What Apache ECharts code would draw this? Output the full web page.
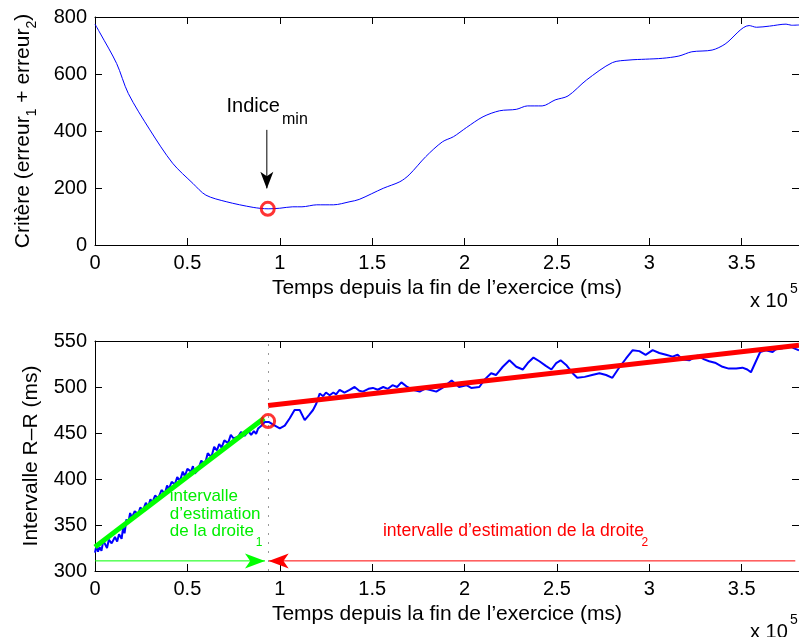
<!DOCTYPE html>
<html><head><meta charset="utf-8">
<script src="https://cdn.jsdelivr.net/npm/echarts@6/dist/echarts.min.js"></script>
<style>html,body{margin:0;padding:0;background:#fff}#c{width:799px;height:637px}</style>
</head><body><div id="c"></div>
<script>
const FONT = "'Liberation Sans', Arial, Helvetica, sans-serif";

// ---- top plot : criterion ----
const critX = [0, 0.027, 0.117, 0.18, 0.297, 0.42, 0.53, 0.60, 0.71, 0.856, 0.937, 1.0, 1.07, 1.12, 1.2, 1.29, 1.38, 1.43, 1.56, 1.65, 1.70, 1.79, 1.88, 1.94, 2.01, 2.10, 2.19, 2.28, 2.34, 2.42, 2.49, 2.56, 2.66, 2.80, 2.89, 2.98, 3.07, 3.16, 3.23, 3.34, 3.41, 3.54, 3.58, 3.65, 3.74, 3.77, 3.81];
const critY = [775, 744, 637, 532, 404, 287, 216, 175, 152, 132, 127, 129, 134, 134, 141, 141, 152, 160, 199, 222, 246, 310, 362, 380, 412, 450, 471, 476, 488, 488, 509, 523, 579, 640, 649, 652, 655, 663, 678, 684, 705, 770, 764, 768, 775, 771, 772];
const critMinX = [0.935];
const critMinY = [127];

// ---- bottom plot : R-R interval ----
const rrX = [0, 0.008, 0.016, 0.025, 0.035, 0.045, 0.054, 0.065, 0.075, 0.09, 0.108, 0.12, 0.13, 0.144, 0.152, 0.16, 0.17, 0.18, 0.19, 0.2, 0.215, 0.234, 0.245, 0.26, 0.275, 0.288, 0.3, 0.31, 0.325, 0.342, 0.36, 0.378, 0.39, 0.4, 0.415, 0.432, 0.445, 0.46, 0.475, 0.486, 0.5, 0.52, 0.53, 0.54, 0.558, 0.575, 0.595, 0.61, 0.63, 0.645, 0.66, 0.672, 0.685, 0.7, 0.72, 0.735, 0.75, 0.775, 0.79, 0.81, 0.83, 0.845, 0.86, 0.872, 0.883, 0.9, 0.919, 0.94, 0.964, 1.0, 1.027, 1.054, 1.08, 1.108, 1.135, 1.16, 1.18, 1.198, 1.216, 1.235, 1.25, 1.27, 1.29, 1.305, 1.324, 1.35, 1.378, 1.405, 1.43, 1.45, 1.48, 1.504, 1.53, 1.56, 1.585, 1.61, 1.635, 1.658, 1.69, 1.72, 1.757, 1.785, 1.81, 1.847, 1.88, 1.93, 1.97, 2.01, 2.036, 2.08, 2.108, 2.144, 2.17, 2.207, 2.243, 2.28, 2.315, 2.342, 2.373, 2.405, 2.44, 2.47, 2.496, 2.52, 2.55, 2.585, 2.61, 2.65, 2.69, 2.73, 2.766, 2.80, 2.84, 2.874, 2.91, 2.946, 2.98, 3.018, 3.054, 3.09, 3.126, 3.153, 3.18, 3.216, 3.26, 3.297, 3.324, 3.36, 3.396, 3.43, 3.47, 3.504, 3.53, 3.55, 3.577, 3.6, 3.63, 3.667, 3.685, 3.72, 3.757, 3.784, 3.81];
const rrY = [320, 328, 321, 326, 322, 333, 331, 325, 334, 330, 337, 332, 340, 335, 347, 341, 356, 352, 363, 358, 365, 362, 369, 366, 374, 370, 378, 374, 382, 379, 388, 384, 393, 389, 397, 394, 402, 398, 408, 403, 411, 408, 414, 406, 410, 420, 416, 428, 424, 435, 431, 438, 434, 442, 439, 448, 444, 446, 451, 447, 452, 448, 452, 449, 455, 458, 462, 462, 459, 455, 458, 466, 475, 475, 464, 470, 475, 482, 493, 490, 494, 491, 494, 492, 497, 494, 497, 500, 496, 495, 498, 499, 497, 500, 498, 502, 500, 505, 500, 497, 495, 498, 497, 495, 499, 507, 500, 502, 499, 500, 508, 515, 513, 522, 529, 522, 519, 526, 532, 528, 523, 519, 526, 529, 524, 515, 510, 511, 513, 515, 513, 510, 522, 531, 540, 539, 535, 540, 537, 535, 533, 535, 530, 529, 534, 530, 528, 526, 522, 520, 520, 521, 519, 516, 528, 538, 540, 538, 541, 542, 545, 542, 540];
const fit1X = [0, 0.915];
const fit1Y = [326, 466];
const fit2X = [0.937, 3.81];
const fit2Y = [480, 545.5];
const breakX = [0.937];
const breakY = [463];
const arrowY = 311;
// annotation arrow of the top plot: start (tail) and tip
const topArrowX = [0.93, 0.93];
const topArrowY = [404, 199];
// bottom interval arrows: tails and tips
const arrow1X = [0, 0.92];
const arrow2X = [3.79, 0.94];

const xMax = 3.81;
const zip = (a, b) => a.map((v, i) => [v, b[i]]);

const tickStyle = {color: '#000', fontSize: 20, fontFamily: FONT};
function xAx(grid, pos, labels, name) {
  return {
    type: 'value', gridIndex: grid, position: pos, min: 0, max: xMax, interval: 0.5,
    axisLine: {show: true, onZero: false, lineStyle: {color: '#000', width: 1}},
    axisTick: {show: true, inside: true, length: 7, lineStyle: {color: '#000'}},
    axisLabel: Object.assign({show: labels, margin: 8, showMaxLabel: false}, tickStyle),
    splitLine: {show: false},
    name: name || '', nameLocation: 'middle', nameGap: 33,
    nameTextStyle: {color: '#000', fontSize: 21, fontFamily: FONT}
  };
}
function yAx(grid, pos, labels, min, max, interval, name, gap, rich) {
  return {
    type: 'value', gridIndex: grid, position: pos, min, max, interval,
    axisLine: {show: true, onZero: false, lineStyle: {color: '#000', width: 1}},
    axisTick: {show: true, inside: true, length: 7, lineStyle: {color: '#000'}},
    axisLabel: Object.assign({show: labels, margin: 8}, tickStyle),
    splitLine: {show: false},
    name: name || '', nameLocation: 'middle', nameGap: gap || 0,
    nameTextStyle: {color: '#000', fontSize: 21, fontFamily: FONT, rich: rich}
  };
}
const subRich = {
  a: {fontSize: 21, fontFamily: FONT, color: '#000', verticalAlign: 'top', lineHeight: 22},
  s: {fontSize: 14, fontFamily: FONT, color: '#000', verticalAlign: 'top', lineHeight: 14, padding: [12, 0, 0, 0]}
};
const xName = 'Temps depuis la fin de l\u2019exercice (ms)';
const ARROW = 'path://M50,0 L100,100 L50,74 L0,100 Z';
const GREEN = '#00ff00', RED = '#ff0000', BLUE = '#0000ff';

function head(xi, yi, x, y, color, rot, off, size) {
  return {
    type: 'scatter', xAxisIndex: xi, yAxisIndex: yi, data: [[x, y]], silent: true, z: 5,
    symbol: ARROW, symbolSize: size, symbolRotate: rot, symbolOffset: off,
    itemStyle: {color: color, opacity: 1}
  };
}
function seg(xi, yi, xs, ys, color, width, z) {
  return {
    type: 'line', xAxisIndex: xi, yAxisIndex: yi, data: zip(xs, ys), showSymbol: false,
    silent: true, z: z || 2, lineStyle: {color: color, width: width}
  };
}

const chart = echarts.init(document.getElementById('c'), null, {renderer: 'canvas'});
chart.setOption({
  animation: false,
  backgroundColor: '#fff',
  grid: [
    {left: 95, top: 17, width: 705, height: 228},
    {left: 95, top: 341, width: 705, height: 230}
  ],
  xAxis: [
    xAx(0, 'bottom', true, xName),
    xAx(0, 'top', false),
    xAx(1, 'bottom', true, xName),
    xAx(1, 'top', false)
  ],
  yAxis: [
    yAx(0, 'left', true, 0, 800, 200, '{a|Crit\u00e8re (erreur}{s|1}{a| + erreur}{s|2}{a|)}', 60, subRich),
    yAx(0, 'right', false, 0, 800, 200),
    yAx(1, 'left', true, 300, 550, 50, 'Intervalle R\u2013R (ms)', 53),
    yAx(1, 'right', false, 300, 550, 50)
  ],
  series: [
    Object.assign(seg(0, 0, critX, critY, BLUE, 1), {smooth: 0.3}),
    seg(0, 0, topArrowX, topArrowY, '#000', 1),
    head(0, 0, topArrowX[1], topArrowY[1], '#000', 180, [0, -8], [13, 17]),
    {
      type: 'scatter', xAxisIndex: 0, yAxisIndex: 0, data: zip(critMinX, critMinY),
      symbol: 'circle', symbolSize: 13, silent: true, z: 6,
      itemStyle: {color: 'rgba(0,0,0,0)', borderColor: RED, borderWidth: 3}
    },
    {
      type: 'line', xAxisIndex: 2, yAxisIndex: 2, data: zip(rrX, rrY),
      showSymbol: false, lineStyle: {color: BLUE, width: 2}, silent: true,
      markLine: {
        silent: true, animation: false, label: {show: false}, symbol: 'none',
        lineStyle: {color: '#999', width: 1, type: [2, 7]},
        data: [{xAxis: breakX[0]}]
      }
    },
    seg(2, 2, fit1X, fit1Y, GREEN, 5, 3),
    seg(2, 2, fit2X, fit2Y, RED, 5, 3),
    seg(2, 2, arrow1X, [arrowY, arrowY], GREEN, 1),
    head(2, 2, arrow1X[1], arrowY, GREEN, -90, [-10, 0], [15, 20]),
    seg(2, 2, arrow2X, [arrowY, arrowY], RED, 1),
    head(2, 2, arrow2X[1], arrowY, RED, 90, [10, 0], [15, 20]),
    {
      type: 'scatter', xAxisIndex: 2, yAxisIndex: 2, data: zip(breakX, breakY),
      symbol: 'circle', symbolSize: 13, silent: true, z: 6,
      itemStyle: {color: 'rgba(0,0,0,0)', borderColor: RED, borderWidth: 3}
    }
  ]
});

// annotations placed in data coordinates
function px(g, x, y) { return chart.convertToPixel({gridIndex: g}, [x, y]); }
function txt(g, x, y, text, size, color) {
  const p = px(g, x, y);
  return {type: 'text', x: p[0], y: p[1], silent: true,
    style: {text, fill: color, fontSize: size, fontFamily: FONT, align: 'left', verticalAlign: 'bottom'}};
}
const GT = '#00ee00';
chart.setOption({
  graphic: [
    txt(0, 0.712, 452, 'Indice', 20, '#000'),
    txt(0, 1.012, 412, 'min', 16, '#000'),
    txt(1, 0.405, 372, 'intervalle', 17, GT),
    txt(1, 0.405, 352, 'd\u2019estimation', 17, GT),
    txt(1, 0.405, 334, 'de la droite', 17, GT),
    txt(1, 0.87, 324, '1', 12, GT),
    txt(1, 1.558, 333, 'intervalle d\u2019estimation de la droite', 17.6, RED),
    txt(1, 2.957, 324, '2', 12, RED),
    {type: 'text', x: 750, y: 311, silent: true, style: {text: 'x 10', fill: '#000', fontSize: 20, fontFamily: FONT, verticalAlign: 'bottom'}},
    {type: 'text', x: 790, y: 296, silent: true, style: {text: '5', fill: '#000', fontSize: 14, fontFamily: FONT, verticalAlign: 'bottom'}},
    {type: 'text', x: 750, y: 642, silent: true, style: {text: 'x 10', fill: '#000', fontSize: 20, fontFamily: FONT, verticalAlign: 'bottom'}},
    {type: 'text', x: 790, y: 627, silent: true, style: {text: '5', fill: '#000', fontSize: 14, fontFamily: FONT, verticalAlign: 'bottom'}}
  ]
});
</script>
</body></html>
